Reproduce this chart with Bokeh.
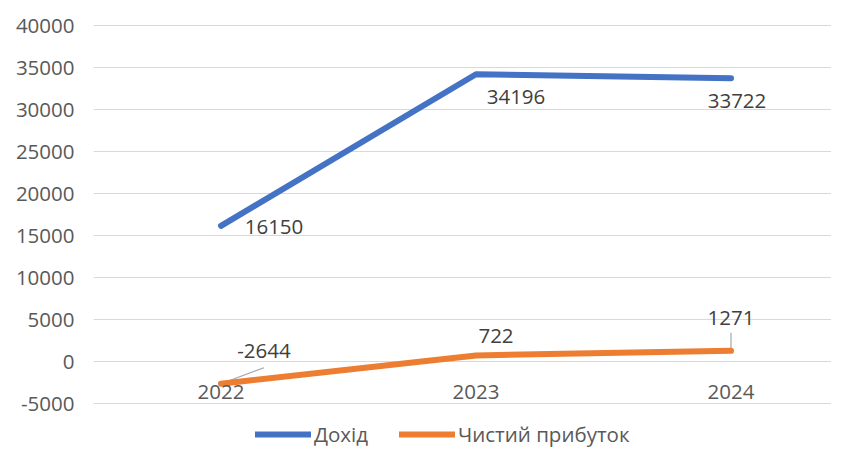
from bokeh.plotting import figure
from bokeh.models import Range1d, FixedTicker, Legend, LegendItem, ColumnDataSource, CustomJSTickFormatter
from bokeh.core.properties import value
from bokeh.embed import file_html
from bokeh.resources import INLINE

years = ["2022", "2023", "2024"]
revenue = [16150, 34196, 33722]
profit = [-2644, 722, 1271]
y_ticks = [-5000, 0, 5000, 10000, 15000, 20000, 25000, 30000, 35000, 40000]
series_names = ["Дохід", "Чистий прибуток"]

# label placement offsets (screen px)
rev_dx = [53, 40, 6]
rev_dy = [1, 23, 23]
prof_dx = [43, 20, 0]
prof_dy = [-33, -19, -33]

FONT = "Open Sans"
BLUE = "#4472C4"
ORANGE = "#ED7D31"

xs = list(range(len(years)))
px_x = 255.0          # px per category
px_y = 42.0 / 5000.0  # px per unit

W, H = 831, 448
LEFT, TOP = 93, 15
frame_w = W - LEFT
frame_h = H - TOP
y_top = 40000 + 10 / px_y
y_bot = y_top - frame_h / px_y

p = figure(width=W, height=H, output_backend="svg", toolbar_location=None,
           x_range=Range1d(-0.5, -0.5 + frame_w / px_x),
           y_range=Range1d(y_bot, y_top),
           min_border_left=LEFT, min_border_right=0, min_border_top=TOP, min_border_bottom=0)
p.outline_line_color = None
p.xaxis.visible = False
p.xgrid.visible = False
p.yaxis.ticker = FixedTicker(ticks=y_ticks)
p.yaxis.formatter = CustomJSTickFormatter(code="return tick.toFixed(0);")
p.ygrid.ticker = FixedTicker(ticks=y_ticks)
p.ygrid.grid_line_color = "#d9d9d9"
p.ygrid.grid_line_width = 1
p.yaxis.axis_line_color = None
p.yaxis.major_tick_line_color = None
p.yaxis.minor_tick_line_color = None
p.yaxis.major_tick_in = 0
p.yaxis.major_tick_out = 0
p.yaxis.major_label_standoff = 19
p.yaxis.major_label_text_font = FONT
p.yaxis.major_label_text_font_size = "20.5px"
p.yaxis.major_label_text_color = "#595959"

# leader lines
p.segment(x0=[xs[0], xs[2]], y0=[profit[0], profit[2] + 1 / px_y],
          x1=[xs[0] + 43 / px_x, xs[2]], y1=[profit[0] + 16 / px_y, profit[2] + 18 / px_y],
          line_color="#a6a6a6", line_width=1.2)

r1 = p.line(xs, revenue, line_color=BLUE, line_width=6, line_cap="round", line_join="round")
r2 = p.line(xs, profit, line_color=ORANGE, line_width=6, line_cap="round", line_join="round")

# category labels near zero line
p.text(x=xs, y=[0] * len(xs), text=years, y_offset=30, text_align="center",
       text_baseline="middle", text_font=value(FONT), text_font_size="20.5px",
       text_color="#595959")

rsrc = ColumnDataSource(dict(x=xs, y=revenue, t=[str(v) for v in revenue], dx=rev_dx, dy=rev_dy))
psrc = ColumnDataSource(dict(x=xs, y=profit, t=[str(v) for v in profit], dx=prof_dx, dy=prof_dy))
for src in (rsrc, psrc):
    p.text(x="x", y="y", text="t", x_offset="dx", y_offset="dy", source=src,
           text_align="center", text_baseline="middle", text_font=value(FONT),
           text_font_size="20.5px", text_color="#404040")

legend = Legend(items=[LegendItem(label=series_names[0], renderers=[r1]),
                       LegendItem(label=series_names[1], renderers=[r2])],
                location=(162, 0), orientation="horizontal", glyph_width=56, glyph_height=20,
                label_height=20, label_standoff=3, spacing=31, padding=0, margin=0,
                border_line_alpha=0, background_fill_alpha=0,
                label_text_font=FONT, label_text_font_size="20.5px", label_text_color="#595959")
p.add_layout(legend)

open("out.html", "w").write(file_html(p, INLINE))
